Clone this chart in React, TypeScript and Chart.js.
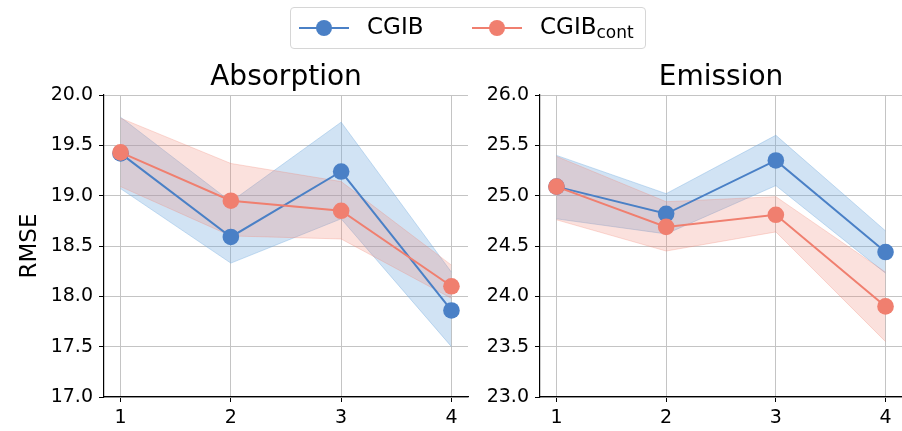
import React, { useEffect, useRef } from "react";
import { Chart, registerables } from "chart.js";
Chart.register(...registerables);

const steps = [1, 2, 3, 4];
const absTicks = [17.0, 17.5, 18.0, 18.5, 19.0, 19.5, 20.0];
const emiTicks = [23.0, 23.5, 24.0, 24.5, 25.0, 25.5, 26.0];

const absCgibMean = [19.42, 18.59, 19.24, 17.86];
const absCgibLow = [19.07, 18.33, 18.77, 17.5];
const absCgibHigh = [19.78, 18.94, 19.73, 18.24];
const absContMean = [19.43, 18.95, 18.85, 18.1];
const absContLow = [19.09, 18.6, 18.57, 17.98];
const absContHigh = [19.77, 19.32, 19.14, 18.31];

const emiCgibMean = [25.09, 24.82, 25.35, 24.44];
const emiCgibLow = [24.77, 24.62, 25.1, 24.23];
const emiCgibHigh = [25.4, 25.02, 25.6, 24.65];
const emiContMean = [25.09, 24.69, 24.81, 23.9];
const emiContLow = [24.76, 24.45, 24.64, 23.55];
const emiContHigh = [25.39, 24.94, 24.99, 24.24];

const FONT = '"DejaVu Sans", sans-serif';
const BLUE = "#4a80c6";
const RED = "#f07f6f";
const BLUE_BAND = "rgba(111,168,220,0.32)";
const BLUE_EDGE = "rgba(111,168,220,0.38)";
const RED_BAND = "rgba(240,128,112,0.24)";
const RED_EDGE = "rgba(240,128,112,0.28)";
const GRID = "#c4c4c4";

const pts = (vals: number[]) => vals.map((v, i) => ({ x: steps[i], y: v }));

function buildConfig(
  title: string,
  yTicks: number[],
  cgib: number[][],
  cont: number[][],
  yWidth: number,
  padRight: number,
  yLabel: string | null
): any {
  const [cMean, cLow, cHigh] = cgib;
  const [rMean, rLow, rHigh] = cont;
  const bandLow = (data: number[], edge: string, order: number) => ({
    data: pts(data),
    borderColor: edge,
    borderWidth: 1,
    pointRadius: 0,
    fill: false,
    order,
  });
  const bandHigh = (data: number[], edge: string, bg: string, order: number) => ({
    data: pts(data),
    borderColor: edge,
    borderWidth: 1,
    backgroundColor: bg,
    pointRadius: 0,
    fill: "-1",
    order,
  });
  const line = (data: number[], color: string, order: number) => ({
    data: pts(data),
    borderColor: color,
    backgroundColor: color,
    borderWidth: 2,
    pointRadius: 8.3,
    pointBorderWidth: 0,
    pointBackgroundColor: color,
    fill: false,
    order,
  });
  const decor = {
    id: "decor-" + title,
    afterDraw(chart: any) {
      const ctx = chart.ctx;
      const ca = chart.chartArea;
      ctx.save();
      ctx.fillStyle = "#000";
      ctx.font = "28px " + FONT;
      ctx.textAlign = "center";
      ctx.textBaseline = "alphabetic";
      ctx.fillText(title, (ca.left + ca.right) / 2, 85);
      if (yLabel) {
        ctx.translate(36, (ca.top + ca.bottom) / 2);
        ctx.rotate(-Math.PI / 2);
        ctx.font = "23px " + FONT;
        ctx.fillText(yLabel, 0, 0);
      }
      ctx.restore();
    },
  };
  return {
    type: "line",
    data: {
      datasets: [
        bandLow(cLow, BLUE_EDGE, 4),
        bandHigh(cHigh, BLUE_EDGE, BLUE_BAND, 4),
        bandLow(rLow, RED_EDGE, 3),
        bandHigh(rHigh, RED_EDGE, RED_BAND, 3),
        line(cMean, BLUE, 1),
        line(rMean, RED, 0),
      ],
    },
    options: {
      animation: false,
      responsive: false,
      devicePixelRatio: 1,
      events: [],
      layout: {
        autoPadding: false,
        padding: { left: 0, right: padRight, top: 95, bottom: 0 },
      },
      plugins: {
        legend: { display: false },
        title: { display: false },
        tooltip: { enabled: false },
      },
      scales: {
        x: {
          type: "linear",
          min: 0.85,
          max: 4.15,
          afterBuildTicks: (s: any) => {
            s.ticks = steps.map((v) => ({ value: v }));
          },
          afterFit: (s: any) => {
            s.height = 34;
          },
          ticks: {
            font: { family: FONT, size: 19 },
            color: "#000",
            padding: 5,
            maxRotation: 0,
            callback: (v: any) => String(v),
          },
          grid: {
            color: GRID,
            lineWidth: 1,
            tickColor: "#000",
            tickLength: 5,
          },
          border: { display: true, color: "#000", width: 1.2 },
        },
        y: {
          type: "linear",
          min: yTicks[0],
          max: yTicks[yTicks.length - 1],
          afterBuildTicks: (s: any) => {
            s.ticks = yTicks.map((v) => ({ value: v }));
          },
          afterFit: (s: any) => {
            s.width = yWidth;
          },
          ticks: {
            font: { family: FONT, size: 19 },
            color: "#000",
            padding: 6,
            callback: (v: any) => Number(v).toFixed(1),
          },
          grid: {
            color: GRID,
            lineWidth: 1,
            tickColor: "#000",
            tickLength: 5,
          },
          border: { display: true, color: "#000", width: 1.2 },
        },
      },
    },
    plugins: [decor],
  };
}

function LegendMarker(props: { left: number; color: string }) {
  return (
    <>
      <div
        style={{
          position: "absolute",
          left: props.left,
          top: 19,
          width: 50,
          height: 2,
          background: props.color,
        }}
      />
      <div
        style={{
          position: "absolute",
          left: props.left + 25 - 8,
          top: 12,
          width: 16,
          height: 16,
          borderRadius: "50%",
          background: props.color,
        }}
      />
    </>
  );
}

export default function App() {
  const leftRef = useRef<HTMLCanvasElement>(null);
  const rightRef = useRef<HTMLCanvasElement>(null);

  useEffect(() => {
    const c1 = new Chart(
      leftRef.current as HTMLCanvasElement,
      buildConfig(
        "Absorption",
        absTicks,
        [absCgibMean, absCgibLow, absCgibHigh],
        [absContMean, absContLow, absContHigh],
        104,
        12,
        "RMSE"
      )
    );
    const c2 = new Chart(
      rightRef.current as HTMLCanvasElement,
      buildConfig(
        "Emission",
        emiTicks,
        [emiCgibMean, emiCgibLow, emiCgibHigh],
        [emiContMean, emiContLow, emiContHigh],
        60,
        0,
        null
      )
    );
    return () => {
      c1.destroy();
      c2.destroy();
    };
  }, []);

  return (
    <div
      style={{
        position: "absolute",
        left: 0,
        top: 0,
        width: 902,
        height: 431,
        background: "#fff",
        overflow: "hidden",
        fontFamily: FONT,
      }}
    >
      <canvas
        ref={leftRef}
        width={480}
        height={431}
        style={{ position: "absolute", left: 0, top: 0, width: 480, height: 431 }}
      />
      <canvas
        ref={rightRef}
        width={422}
        height={431}
        style={{ position: "absolute", left: 480, top: 0, width: 422, height: 431 }}
      />
      <div
        style={{
          position: "absolute",
          left: 290,
          top: 7,
          width: 354,
          height: 40,
          border: "1px solid #d6d6d6",
          borderRadius: 4,
          background: "rgba(255,255,255,0.8)",
        }}
      >
        <LegendMarker left={8} color={BLUE} />
        <span
          style={{
            position: "absolute",
            left: 76,
            top: 5,
            fontSize: 23,
            lineHeight: "27px",
            color: "#000",
            whiteSpace: "nowrap",
          }}
        >
          CGIB
        </span>
        <LegendMarker left={181} color={RED} />
        <span
          style={{
            position: "absolute",
            left: 249,
            top: 5,
            fontSize: 23,
            lineHeight: "27px",
            color: "#000",
            whiteSpace: "nowrap",
          }}
        >
          CGIB
          <span style={{ fontSize: 17, position: "relative", top: 4 }}>cont</span>
        </span>
      </div>
    </div>
  );
}
